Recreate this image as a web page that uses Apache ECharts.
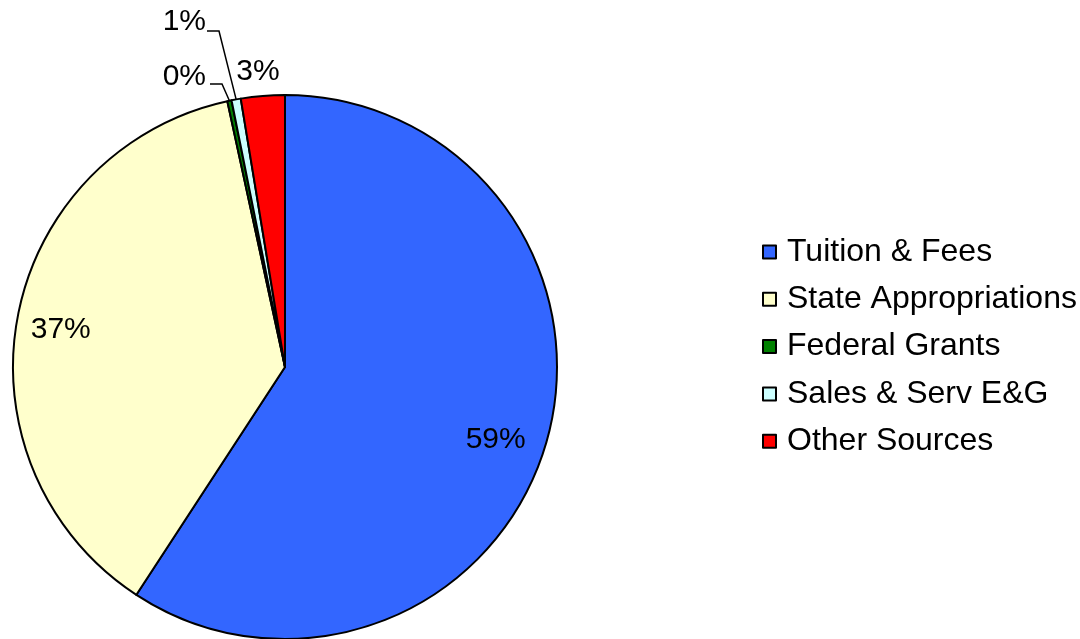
<!DOCTYPE html>
<html><head><meta charset="utf-8">
<script src="https://cdn.jsdelivr.net/npm/echarts@6/dist/echarts.min.js"></script>
<style>html,body{margin:0;padding:0;background:#fff}#c{width:1080px;height:639px}</style>
</head><body><div id="c"></div>
<script>
const categories = ['Tuition & Fees','State Appropriations','Federal Grants','Sales & Serv E&G','Other Sources'];
const values = [59.2, 37.4, 0.25, 0.55, 2.6];
const colors = ['#3366FF','#FFFFCC','#008000','#CCFFFF','#FF0000'];
const total = values.reduce((a,b)=>a+b,0);
const pct = v => Math.round(v/total*100) + '%';
const FONT = 'Liberation Sans, Arial, sans-serif';

const chart = echarts.init(document.getElementById('c'));
const insideIdx = [0,1];
// label placement for the small outside slices (label anchor, elbow of the leader)
const outsideLayout = {
  2: {x:206, y:77, elbow:[222,84], end:[210,84]},
  3: {x:206, y:22, elbow:[219,31], end:[207,31]},
  4: {x:258, y:72}
};
const insideShift = {0:[-5,9], 1:[-3,4]};
chart.setOption({
  animation:false,
  legend:{
    orient:'vertical', left:757, top:231,
    icon:'rect', itemWidth:13, itemHeight:13, itemGap:15.3,
    textStyle:{fontFamily:FONT, fontSize:32, color:'#000', padding:[0,0,0,6]},
    data:categories.map((n,i)=>({name:n, itemStyle:{color:colors[i], borderColor:'#000', borderWidth:2}}))
  },
  series:[
    {
      type:'pie', center:[285,367], radius:[0,272], startAngle:90, clockwise:true,
      silent:true,
      itemStyle:{borderColor:'#000', borderWidth:2},
      label:{show:true, position:'outside', fontFamily:FONT, fontSize:30, color:'#000',
        formatter:p=>pct(p.value)},
      labelLine:{show:true, length:15, length2:20, lineStyle:{color:'#000', width:1.5}},
      labelLayout:function(p){
        const L = outsideLayout[p.dataIndex];
        if(!L) return {};
        const out = {x:L.x, y:L.y, align: L.end ? 'right' : 'center', verticalAlign:'middle'};
        if(L.end && p.labelLinePoints){
          out.labelLinePoints = [p.labelLinePoints[0], L.elbow, L.end];
        }
        return out;
      },
      data:categories.map((n,i)=>({name:n, value:values[i], itemStyle:{color:colors[i]},
        label:{show:!insideIdx.includes(i)},
        labelLine:{show: i===2 || i===3}}))
    },
    {
      type:'pie', center:[285,367], radius:[172,272], startAngle:90, clockwise:true,
      silent:true, legendHoverLink:false,
      itemStyle:{color:'rgba(0,0,0,0)', borderWidth:0},
      label:{show:true, position:'inside', fontFamily:FONT, fontSize:30, color:'#000',
        formatter:p=>pct(p.value)},
      labelLine:{show:false},
      labelLayout:function(p){
        const s = insideShift[p.dataIndex];
        return s ? {dx:s[0], dy:s[1]} : {};
      },
      data:categories.map((n,i)=>({name:n+' ', value:values[i],
        label:{show:insideIdx.includes(i)}}))
    }
  ]
});
</script></body></html>
